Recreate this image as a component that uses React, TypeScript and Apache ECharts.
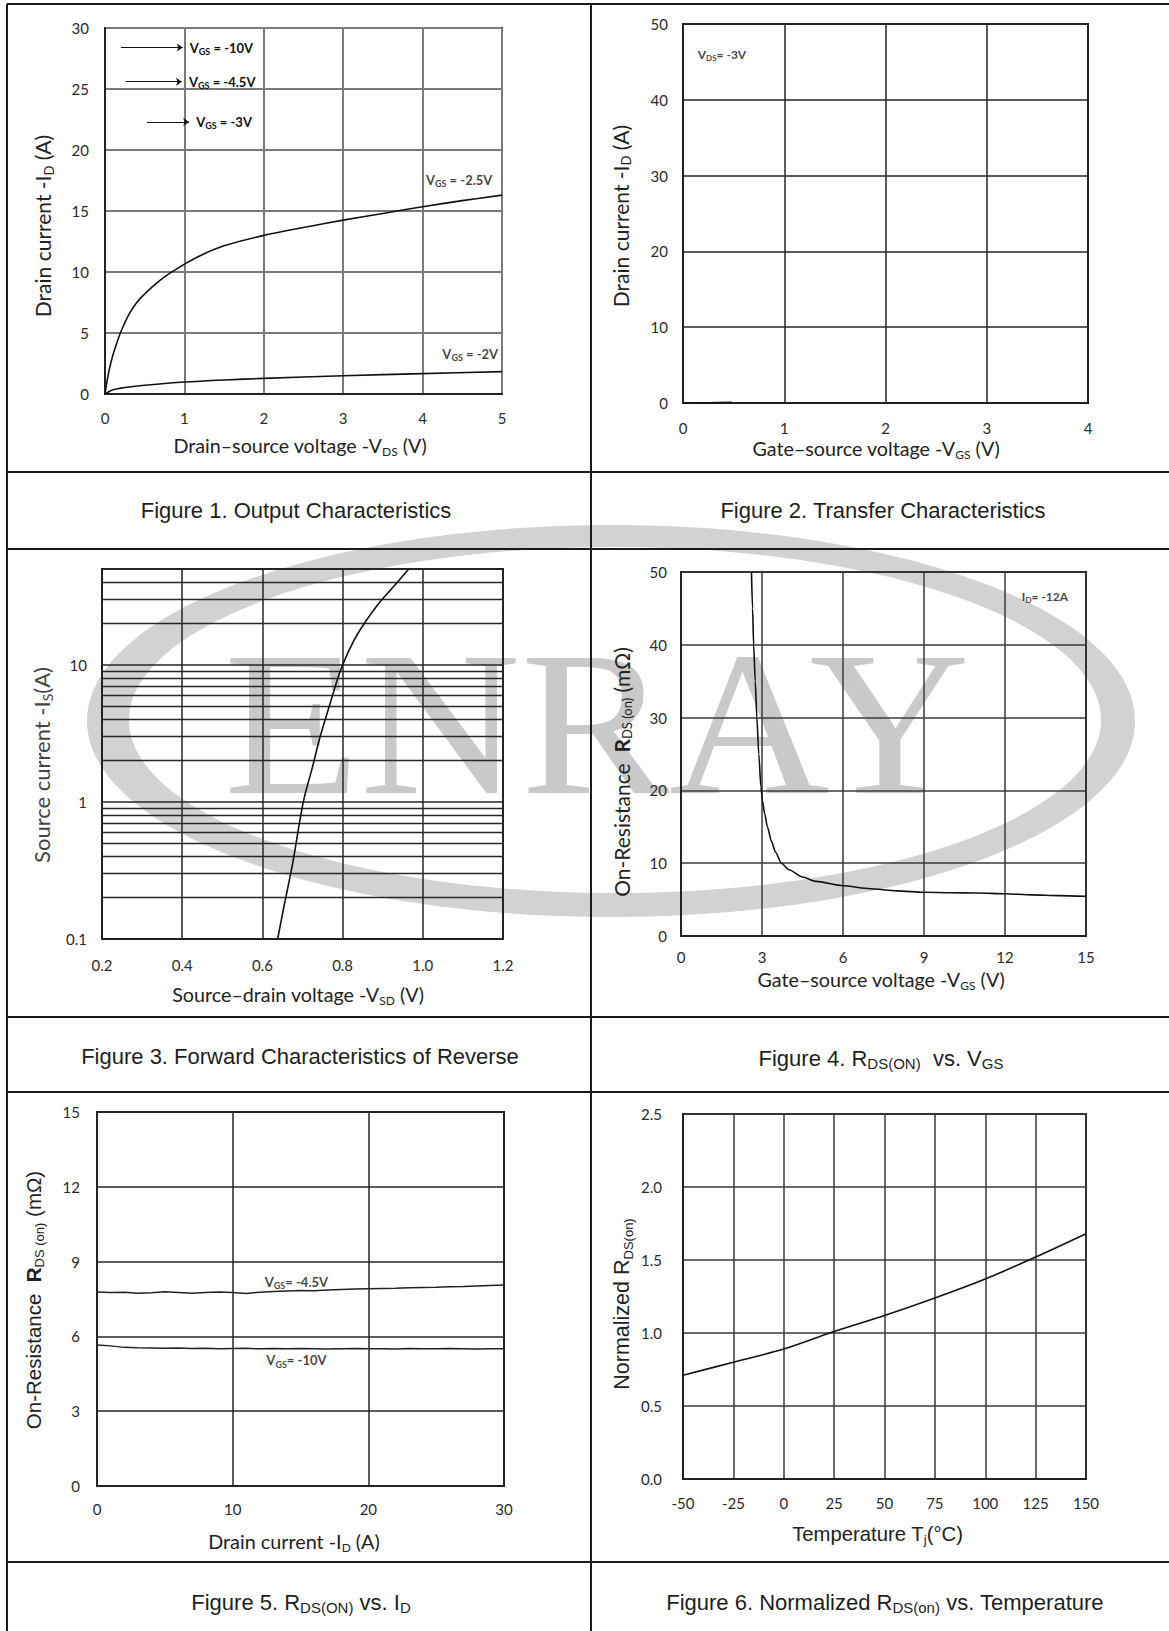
import React, { useEffect, useRef } from "react";
import * as echarts from "echarts";

// ---------------- data ----------------
// Figure 1: output characteristics
const fig1VdsA = [0, 0.05, 0.1, 0.15, 0.2, 0.3, 0.4, 0.5, 0.6, 0.7, 0.8, 1.0, 1.25, 1.5, 2.0, 2.5, 3.0, 3.5, 4.0, 4.5, 5.0];
const fig1IdVgs25 = [0, 1.9, 3.2, 4.2, 5.1, 6.5, 7.5, 8.2, 8.8, 9.35, 9.82, 10.65, 11.5, 12.15, 13.0, 13.65, 14.25, 14.8, 15.35, 15.85, 16.3];
const fig1VdsB = [0, 0.1, 0.2, 0.3, 0.5, 1.0, 1.5, 2.0, 3.0, 4.0, 5.0];
const fig1IdVgs2 = [0, 0.35, 0.48, 0.58, 0.72, 0.98, 1.15, 1.28, 1.5, 1.67, 1.83];
const fig1ArrowLabels = ["-10V", "-4.5V", "-3V"];
const fig1ArrowStart = [0.2, 0.26, 0.53];
const fig1ArrowEnd = [0.98, 0.97, 1.06];
const fig1ArrowLevel = [28.4, 25.6, 22.3];
const fig1CurveLabels = ["-2.5V", "-2V"];
const fig1CurveLabelAt = [[4.46, 17.55], [4.6, 3.3]];

// Figure 2: transfer characteristics
const fig2Vgs = [0, 0.25, 0.48];
const fig2Id = [0, 0.03, 0.08];
const fig2NoteAt = [0.385, 46];

// Figure 3: body diode forward characteristics (log y)
const fig3Vsd = [0.638, 0.655, 0.675, 0.702, 0.725, 0.744, 0.767, 0.785, 0.8, 0.828, 0.854, 0.89, 0.93, 0.965];
const fig3Is = [0.1, 0.18, 0.35, 1, 1.8, 3, 5, 7.5, 10, 15, 20, 28, 38, 50];
const fig3MinorLines = [0.2, 0.3, 0.4, 0.5, 0.6, 0.7, 0.8, 0.9, 2, 3, 4, 5, 6, 7, 8, 9, 20, 30, 40];

// Figure 4: Rds(on) vs Vgs
const fig4Vgs = [2.61, 2.65, 2.69, 2.75, 2.81, 2.88, 2.96, 3.02, 3.1, 3.2, 3.35, 3.5, 3.72, 4.0, 4.5, 5.0, 6.0, 7.0, 8.0, 9.0, 10.0, 11.0, 12.0, 13.0, 14.0, 15.0];
const fig4Rds = [50, 45, 40, 35, 30, 25, 20.5, 18.5, 16.8, 15, 13, 11.5, 10, 9.1, 8.1, 7.5, 6.9, 6.5, 6.2, 6.0, 5.95, 5.9, 5.8, 5.65, 5.55, 5.45];
const fig4NoteAt = [13.48, 46.7];

// Figure 5: Rds(on) vs Id
const fig5Id = [0, 1, 2, 3, 4, 5, 6, 7, 8, 9, 10, 11, 12, 13, 14, 15, 16, 17, 18, 19, 20, 21, 22, 23, 24, 25, 26, 27, 28, 29, 30];
const fig5Rds45 = [7.78, 7.76, 7.77, 7.73, 7.75, 7.79, 7.76, 7.73, 7.76, 7.78, 7.76, 7.72, 7.77, 7.8, 7.82, 7.84, 7.83, 7.86, 7.88, 7.9, 7.91, 7.92, 7.93, 7.95, 7.96, 7.97, 7.99, 8.0, 8.02, 8.04, 8.06];
const fig5Rds10 = [5.66, 5.62, 5.56, 5.54, 5.53, 5.52, 5.53, 5.51, 5.52, 5.5, 5.51, 5.52, 5.5, 5.51, 5.5, 5.51, 5.5, 5.49, 5.5, 5.51, 5.5, 5.5, 5.49, 5.51, 5.5, 5.5, 5.51, 5.5, 5.49, 5.5, 5.5];
const fig5Labels = ["-4.5V", "-10V"];
const fig5LabelAt = [[14.7, 8.2], [14.7, 5.05]];

// Figure 6: normalized Rds(on) vs temperature
const fig6Temp = [-50, -25, 0, 25, 50, 75, 100, 125, 150];
const fig6Norm = [0.71, 0.8, 0.89, 1.01, 1.12, 1.24, 1.37, 1.52, 1.68];

// ---------------- layout ----------------
const W = 1169;
const H = 1631;
const GRIDS = [
  { left: 105, top: 28, width: 397, height: 366 },
  { left: 683, top: 24, width: 405, height: 379 },
  { left: 102, top: 569, width: 401, height: 370 },
  { left: 681, top: 572, width: 405, height: 364 },
  { left: 97, top: 1112, width: 407, height: 374 },
  { left: 683, top: 1114, width: 403, height: 365 },
];
const TABLE_LINES = [
  [7, 4, W, 4],
  [7, 4, 7, H],
  [591, 4, 591, H],
  [7, 472, W, 472],
  [7, 549, W, 549],
  [7, 1017, W, 1017],
  [7, 1092, W, 1092],
  [7, 1562, W, 1562],
];

const TICK_FONT = "Lato";
const TITLE_FONT = "Lato";
const ARIAL = "Liberation Sans";

const zip = (xs: number[], ys: number[]) => xs.map((x, i) => [x, ys[i]]);

function gRich(size: number, family: string, color = "#222", subRatio = 0.62) {
  const lh = Math.round(size * 1.2);
  const ss = Math.round(size * subRatio);
  return {
    n: { fontSize: size, fontFamily: family, fill: color, lineHeight: lh },
    b: { fontSize: size, fontFamily: family, fill: color, lineHeight: lh, fontWeight: "bold" },
    s: { fontSize: ss, fontFamily: family, fill: color, lineHeight: ss, verticalAlign: "bottom" },
  };
}

function lRich(size: number) {
  const lh = Math.round(size * 1.3);
  const ss = Math.round(size * 0.68);
  return {
    v: { fontSize: size, fontFamily: TITLE_FONT, fontWeight: "bold", color: "#111", lineHeight: lh },
    s: { fontSize: ss, fontFamily: TITLE_FONT, fontWeight: "bold", color: "#111", lineHeight: ss, verticalAlign: "bottom" },
  };
}

function gText(x: number, y: number, text: string, rich: any, rotate = false, z = 10) {
  return {
    type: "text",
    x,
    y,
    rotation: rotate ? Math.PI / 2 : 0,
    silent: true,
    z,
    style: {
      text,
      rich,
      align: "center",
      verticalAlign: "middle",
      textAlign: "center",
      textVerticalAlign: "middle",
    },
  };
}

function xAx(gi: number, min: number, max: number, interval: number, margin: number, split: any, fmt?: any) {
  const ax: any = {
    type: "value",
    gridIndex: gi,
    position: "bottom",
    min,
    max,
    interval,
    axisLine: { show: true, onZero: false, lineStyle: { color: "#222", width: 2 } },
    axisTick: { show: false },
    splitLine: { show: true, lineStyle: split },
    axisLabel: { show: true, margin, color: "#2a2a2a", fontFamily: TICK_FONT, fontSize: 15 },
  };
  if (fmt) ax.axisLabel.formatter = fmt;
  return ax;
}

function yAx(gi: number, min: number, max: number, interval: number, margin: number, split: any, fmt?: any) {
  const ax: any = xAx(gi, min, max, interval, margin, split, fmt);
  ax.position = "left";
  return ax;
}

const SPLIT_GRAY = { color: "#7a7a7a", width: 2 };
const SPLIT_DARK = { color: "#262626", width: 1.5 };
const SPLIT_MID = { color: "#3a3a3a", width: 1.5 };
const CURVE = { color: "#111", width: 1.6 };

function buildOption() {
  const grid = GRIDS.map((g) => ({
    ...g,
    show: true,
    borderColor: "#222",
    borderWidth: 2,
    backgroundColor: "transparent",
    containLabel: false,
    outerBoundsMode: "none",
  }));

  const fix1 = (v: number) => v.toFixed(1);
  const xAxis = [
    xAx(0, 0, 5, 1, 16, SPLIT_GRAY),
    xAx(1, 0, 4, 1, 17, SPLIT_DARK),
    xAx(2, 0.2, 1.2, 0.2, 18, SPLIT_DARK, fix1),
    xAx(3, 0, 15, 3, 13, SPLIT_MID),
    xAx(4, 0, 30, 10, 15, SPLIT_DARK),
    xAx(5, -50, 150, 25, 16, SPLIT_MID),
  ];
  const logY: any = {
    type: "log",
    logBase: 10,
    gridIndex: 2,
    position: "left",
    min: 0.1,
    max: 50,
    axisLine: { show: true, onZero: false, lineStyle: { color: "#222", width: 2 } },
    axisTick: { show: false },
    splitLine: { show: true, lineStyle: SPLIT_DARK },
    axisLabel: {
      show: true,
      margin: 15,
      color: "#2a2a2a",
      fontFamily: TICK_FONT,
      fontSize: 15,
      showMaxLabel: false,
      formatter: (v: number) => (v < 1 ? v.toFixed(1) : String(Math.round(v))),
    },
  };
  const yAxis = [
    yAx(0, 0, 30, 5, 16, SPLIT_GRAY),
    yAx(1, 0, 50, 10, 15, SPLIT_DARK),
    logY,
    yAx(3, 0, 50, 10, 14, SPLIT_MID),
    yAx(4, 0, 15, 3, 17, SPLIT_DARK),
    yAx(5, 0, 2.5, 0.5, 21, SPLIT_MID, fix1),
  ];

  const lineBase = (xi: number, data: number[][], smooth: any = 0.3) => ({
    type: "line",
    xAxisIndex: xi,
    yAxisIndex: xi,
    data,
    smooth,
    showSymbol: false,
    symbol: "none",
    silent: true,
    z: 5,
    lineStyle: CURVE,
  });

  const noteSeries = (xi: number, items: { at: number[]; text: string }[], size = 13) => ({
    type: "scatter",
    xAxisIndex: xi,
    yAxisIndex: xi,
    silent: true,
    z: 6,
    symbolSize: 1,
    itemStyle: { color: "transparent" },
    data: items.map((it) => ({ value: it.at, name: it.text })),
    label: {
      show: true,
      position: "inside",
      formatter: (p: any) => p.name,
      rich: lRich(size),
    },
  });

  const series: any[] = [
    {
      ...lineBase(0, zip(fig1VdsA, fig1IdVgs25), 0.35),
      markLine: {
        silent: true,
        symbol: ["none", "arrow"],
        symbolSize: 6,
        lineStyle: { type: "solid", color: "#111", width: 1.2 },
        label: {
          show: true,
          position: "end",
          distance: 7,
          formatter: (p: any) => `{v|V}{s|GS}{v| = ${p.name}}`,
          rich: lRich(13),
        },
        data: fig1ArrowLabels.map((n, i) => [
          { name: n, coord: [fig1ArrowStart[i], fig1ArrowLevel[i]] },
          { name: n, coord: [fig1ArrowEnd[i], fig1ArrowLevel[i]] },
        ]),
      },
    },
    lineBase(0, zip(fig1VdsB, fig1IdVgs2), 0.3),
    noteSeries(
      0,
      fig1CurveLabels.map((t, i) => ({ at: fig1CurveLabelAt[i], text: `{v|V}{s|GS}{v| = ${t}}` })),
      13
    ),
    lineBase(1, zip(fig2Vgs, fig2Id), false),
    noteSeries(1, [{ at: fig2NoteAt, text: "{v|V}{s|DS}{v|= -3V}" }], 12),
    {
      ...lineBase(2, zip(fig3Vsd, fig3Is), 0.3),
      markLine: {
        silent: true,
        symbol: ["none", "none"],
        label: { show: false },
        lineStyle: { type: "solid", color: "#262626", width: 1.4 },
        data: fig3MinorLines.map((v) => ({ yAxis: v })),
      },
    },
    { ...lineBase(3, zip(fig4Vgs, fig4Rds), 0.25), smoothMonotone: "x" },
    noteSeries(3, [{ at: fig4NoteAt, text: "{v|I}{s|D}{v|= -12A}" }], 12),
    { ...lineBase(4, zip(fig5Id, fig5Rds45), false), lineStyle: { color: "#222", width: 1.5 } },
    { ...lineBase(4, zip(fig5Id, fig5Rds10), false), lineStyle: { color: "#222", width: 1.5 } },
    noteSeries(
      4,
      fig5Labels.map((t, i) => ({ at: fig5LabelAt[i], text: `{v|V}{s|GS}{v|= ${t}}` })),
      13
    ),
    lineBase(5, zip(fig6Temp, fig6Norm), 0.3),
  ];

  const capRich = gRich(22, ARIAL, "#1e1e1e", 0.66);
  const titleRich = gRich(19.7, TITLE_FONT, "#222");
  const titleRichV = gRich(21, TITLE_FONT, "#222");
  const f3Rich = gRich(22, TITLE_FONT, "#444");
  const f4Rich = gRich(21, TITLE_FONT, "#222");
  const f5Rich = gRich(20.5, ARIAL, "#222");
  const f6yRich = gRich(21.5, ARIAL, "#222");
  const f6xRich = gRich(20.3, ARIAL, "#222");
  const f5xRich = gRich(19.8, TITLE_FONT, "#222");

  const graphic: any[] = [
    // watermark
    { type: "ellipse", z: -30, silent: true, shape: { cx: 611, cy: 721, rx: 524, ry: 196 }, style: { fill: "#d2d2d2" } },
    { type: "ellipse", z: -29, silent: true, shape: { cx: 615, cy: 720, rx: 486, ry: 173 }, style: { fill: "#ffffff" } },
    {
      type: "text",
      z: -28,
      silent: true,
      x: 597,
      y: 723,
      scaleX: 1.08,
      style: {
        text: "ENRAY",
        fontFamily: "Liberation Serif",
        fontSize: 206,
        fill: "#c9c9c9",
        align: "center",
        verticalAlign: "middle",
        textAlign: "center",
        textVerticalAlign: "middle",
      },
    },
    // table rules
    ...TABLE_LINES.map(([x1, y1, x2, y2]) => ({
      type: "line",
      z: 20,
      silent: true,
      shape: { x1, y1, x2, y2 },
      style: { stroke: "#1a1a1a", lineWidth: 2 },
    })),
    // captions
    gText(296, 510, "{n|Figure 1. Output Characteristics}", capRich),
    gText(883, 510, "{n|Figure 2. Transfer Characteristics}", capRich),
    gText(300, 1056, "{n|Figure 3. Forward Characteristics of Reverse}", capRich),
    gText(881, 1058, "{n|Figure 4. R}{s|DS(ON)}{n|  vs. V}{s|GS}", capRich),
    gText(301, 1602, "{n|Figure 5. R}{s|DS(ON)}{n| vs. I}{s|D}", capRich),
    gText(885, 1602, "{n|Figure 6. Normalized R}{s|DS(on)}{n| vs. Temperature}", capRich),
    // axis titles
    gText(42.5, 226, "{n|Drain current -I}{s|D}{n| (A)}", titleRichV, true),
    gText(300, 445, "{n|Drain\u2013source voltage -V}{s|DS}{n| (V)}", titleRich),
    gText(620, 216, "{n|Drain current -I}{s|D}{n| (A)}", titleRichV, true),
    gText(876, 448, "{n|Gate\u2013source voltage -V}{s|GS}{n| (V)}", titleRich),
    gText(41, 765, "{n|Source current -I}{s|S}{n|(A)}", f3Rich, true),
    gText(298, 994, "{n|Source\u2013drain voltage -V}{s|SD}{n| (V)}", titleRich),
    gText(621, 772, "{n|On-Resistance  }{b|R}{s|DS (on)}{n| (m\u03A9)}", f4Rich, true),
    gText(881, 979, "{n|Gate\u2013source voltage -V}{s|GS}{n| (V)}", titleRich),
    gText(33, 1300, "{n|On-Resistance  }{b|R}{s|DS (on)}{n| (m\u03A9)}", f5Rich, true),
    gText(294, 1541, "{n|Drain current -I}{s|D}{n| (A)}", f5xRich),
    gText(622, 1304, "{n|Normalized R}{s|DS(on)}", f6yRich, true),
    gText(877.5, 1534, "{n|Temperature T}{s|j}{n|(\u00B0C)}", f6xRich),
  ];

  return {
    animation: false,
    backgroundColor: "#ffffff",
    grid,
    xAxis,
    yAxis,
    series,
    graphic,
  };
}

export default function App() {
  const ref = useRef<HTMLDivElement | null>(null);
  useEffect(() => {
    if (!ref.current) return;
    const chart = echarts.init(ref.current, undefined, { renderer: "svg", width: W, height: H });
    chart.setOption(buildOption() as any);
    return () => chart.dispose();
  }, []);
  return (
    <div
      ref={ref}
      style={{ position: "absolute", left: 0, top: 0, width: W, height: H, background: "#fff" }}
    />
  );
}
